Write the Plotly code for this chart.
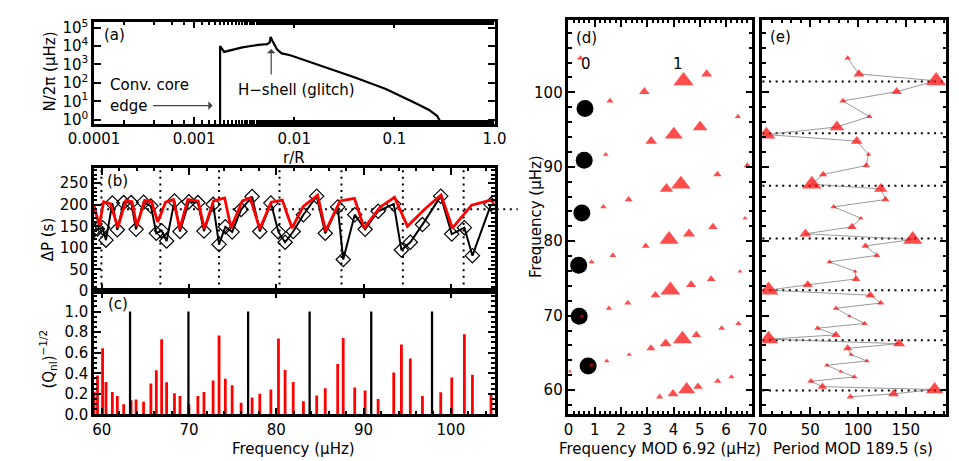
import plotly.graph_objects as go

W, H = 959, 461


def px(x):
    return x / W


def py(y):
    return 1 - y / H


# ── (a) buoyancy frequency profile ───────────────────────────────────────────
R_OVER_R = [0.001816, 0.001816, 0.001995, 0.002239, 0.00302, 0.004365, 0.00537,
            0.005689, 0.005808, 0.006026, 0.006761, 0.0075, 0.00912, 0.0398,
            0.0822, 0.1714, 0.2218, 0.2667, 0.2864, 0.2917]
N_UHZ = [0.1, 10000, 4786, 5754, 8511, 11480, 12590, 15850, 31620, 19950,
         6310, 3981, 3162, 199.5, 46.8, 6.92, 3.39, 1.62, 0.81, 0.1]

# ── l=1 mixed modes ──────────────────────────────────────────────────────────
F1 = [59.1, 59.5, 60.08, 60.47, 61.2, 61.77, 62.5, 63.35, 63.92, 64.78,
      65.62, 66.24, 66.85, 67.42, 68.32, 68.95, 69.97, 71.0, 71.7, 72.75,
      73.43, 74.15, 74.93, 75.96, 77.22, 78.1, 79.37, 80.24, 81.0, 81.93,
      83.1, 84.62, 85.6, 87.03, 87.66, 88.98, 90.17, 91.66, 93.45, 94.33,
      95.35, 96.74, 98.84, 100.1, 101.55, 102.47, 104.6]
Q1 = [0.22, 0.379, 0.644, 0.315, 0.218, 0.18, 0.10, 0.139, 0.145, 0.123,
      0.30, 0.429, 0.732, 0.312, 0.205, 0.18, 0.10, 0.18, 0.218, 0.331,
      0.767, 0.347, 0.284, 0.114, 0.164, 0.202, 0.243, 0.738, 0.432, 0.315,
      0.129, 0.183, 0.255, 0.489, 0.744, 0.262, 0.233, 0.151, 0.407, 0.681,
      0.543, 0.18, 0.215, 0.36, 0.779, 0.385, 0.196]
FMOD1 = [3.47, 3.98, 4.5, 4.93, 5.68, 6.2, 0.05, 0.88, 1.46, 2.31,
         3.14, 3.7, 4.34, 4.87, 5.83, 6.47, 0.51, 1.54, 2.26, 3.31,
         3.88, 4.67, 5.43, 6.53, 0.88, 1.69, 2.94, 3.83, 4.59, 5.5,
         6.72, 1.33, 2.29, 3.73, 4.28, 5.67, 6.81, 1.42, 3.15, 4.01,
         5.01, 6.45, 1.58, 2.89, 4.38, 5.26, 0.45]
PMOD1 = [92, 137.2, 180.2, 62.8, 50.7, 96.3, 81.9, 67.5, 109.4, 92.7,
         89.2, 143, 6.4, 76.9, 57.7, 107, 91, 76.9, 123.8, 113,
         6.4, 47.4, 98, 97, 70.1, 119.8, 107.7, 157.3, 45, 93.7,
         103, 74.5, 128.9, 123.8, 51.7, 63.5, 108.7, 111, 98.7, 4.1,
         77.9, 112, 84.2, 140.5, 181.8, 101, 89.2]

# ── radial modes ─────────────────────────────────────────────────────────────
F0 = [63.23, 69.92, 76.76, 83.81, 90.87, 97.84]
Q0 = [1.0, 1.0, 1.0, 1.0, 1.0, 1.0]
FMOD0 = [0.75, 0.41, 0.39, 0.51, 0.60, 0.63]

# nominal l=1 p modes (dotted guides) and asymptotic spacing
P1_NOM = [59.95, 66.7, 73.43, 80.36, 87.46, 94.5, 101.46]
DPI1 = 189.5

# ── (b) period spacings ──────────────────────────────────────────────────────
DP_F = F1
DP = [141, 144, 147, 118, 204, 142, 205, 205, 143, 206,
      197, 134, 140, 116, 209, 138, 207, 205, 139, 201,
      108, 149, 137, 189, 219, 138, 204, 137, 113, 138,
      177, 220, 134, 195, 73, 177, 143, 185, 202, 95,
      113, 154, 220, 132, 147, 82, 201]
DPM_F = [59.1, 59.7, 60.2, 61.0, 61.83, 62.75, 63.45, 64.0, 64.9, 65.7,
         66.4, 67.3, 68.2, 68.93, 69.85, 71.03, 71.75, 72.8, 74.07, 74.8,
         76.1, 77.0, 78.1, 79.4, 80.68, 81.79, 83.08, 84.73, 85.64, 87.3,
         88.95, 90.06, 91.9, 93.55, 95.02, 97.05, 98.88, 100.17, 102.37,
         104.58, 105.1]
DPM = [198, 152, 207, 202, 147, 210, 207, 150, 210, 207,
       160, 206, 212, 144, 212, 209, 144, 209, 216, 146,
       209, 216, 144, 206, 211, 146, 196, 222, 139, 209,
       215, 146, 195, 217, 150, 191, 223, 146, 199,
       211, 199]

RED = "#ff0000"
FONT = "DejaVu Sans"
FS = 15


def frame(**kw):
    ax = dict(showline=True, linecolor="black", linewidth=2.5, mirror="allticks",
              ticks="inside", ticklen=7, tickwidth=2, tickcolor="black",
              showgrid=False, zeroline=False,
              tickfont=dict(family=FONT, size=FS, color="black"))
    ax.update(kw)
    return ax


def minor(dt, n=3.5):
    return dict(ticks="inside", ticklen=n, tickwidth=1.5, tickcolor="black",
                dtick=dt, showgrid=False)


fig = go.Figure()

# (a)
fig.add_trace(go.Scatter(x=R_OVER_R, y=N_UHZ, mode="lines",
                         line=dict(color="black", width=2.2),
                         xaxis="x", yaxis="y"))

# (b)
fig.add_trace(go.Scatter(x=DP_F, y=DP, mode="lines+markers",
                         line=dict(color="black", width=2),
                         marker=dict(symbol="diamond-open", size=11,
                                     color="black", line=dict(width=1.2)),
                         xaxis="x2", yaxis="y2"))
fig.add_trace(go.Scatter(x=DPM_F, y=DPM, mode="lines",
                         line=dict(color=RED, width=2.8),
                         xaxis="x2", yaxis="y2"))

# (c)
fig.add_trace(go.Bar(x=F1, y=Q1, width=0.32, marker=dict(color=RED, line_width=0),
                     xaxis="x3", yaxis="y3"))
fig.add_trace(go.Bar(x=F0, y=Q0, width=0.26, marker=dict(color="black", line_width=0),
                     xaxis="x3", yaxis="y3"))

# (d)
sizes = [2 + 20 * q for q in Q1]
fig.add_trace(go.Scatter(x=FMOD0, y=F0, mode="markers",
                         marker=dict(symbol="circle", size=17, color="black"),
                         xaxis="x4", yaxis="y4"))
fig.add_trace(go.Scatter(x=FMOD1, y=F1, mode="markers",
                         marker=dict(symbol="triangle-up", size=sizes, color=RED,
                                     line=dict(width=0)),
                         xaxis="x4", yaxis="y4"))

# (e)
fig.add_trace(go.Scatter(x=PMOD1, y=F1, mode="lines+markers",
                         line=dict(color="#808080", width=0.8),
                         marker=dict(symbol="triangle-up", size=sizes, color=RED,
                                     line=dict(width=0)),
                         xaxis="x5", yaxis="y5"))

# dotted guides
dots = dict(color="black", width=2, dash="2px,4.6px")
shapes = []
for f in P1_NOM:
    shapes.append(dict(type="line", xref="x2", yref="y2 domain", x0=f, x1=f,
                       y0=0, y1=1, line=dots, layer="below"))
    shapes.append(dict(type="line", xref="x5 domain", yref="y5", x0=0, x1=1,
                       y0=f, y1=f, line=dots, layer="below"))
shapes.append(dict(type="line", xref="x2 domain", yref="y2", x0=0, x1=1.058,
                   y0=DPI1, y1=DPI1, line=dots, layer="below"))

xl, xr = px(62.5), px(479.5)
fig.update_layout(
    width=W, height=H, autosize=False,
    margin=dict(l=0, r=0, t=0, b=0),
    paper_bgcolor="white", plot_bgcolor="white",
    showlegend=False, barmode="overlay",
    font=dict(family=FONT, size=FS, color="black"),
    shapes=shapes,
    xaxis=frame(type="log", domain=[xl, xr], range=[-4, 0], anchor="y",
                tickvals=[1e-4, 1e-3, 1e-2, 1e-1, 1],
                ticktext=["0.0001", "0.001", "0.01", "0.1", "1.0"],
                minor=dict(ticks="inside", ticklen=3.5, tickwidth=1.5,
                           tickcolor="black", showgrid=False)),
    yaxis=frame(type="log", domain=[py(114), py(9)], range=[-0.21, 5.32],
                anchor="x",
                tickvals=[1, 10, 100, 1e3, 1e4, 1e5],
                ticktext=["10<sup>0</sup>", "10<sup>1</sup>", "10<sup>2</sup>",
                          "10<sup>3</sup>", "10<sup>4</sup>", "10<sup>5</sup>"]),
    xaxis2=frame(domain=[xl, xr], range=[59.1, 105], anchor="y2",
                 matches="x3", showticklabels=False, dtick=10, tick0=0,
                 minor=minor(2)),
    yaxis2=frame(domain=[py(286.7), py(160)], range=[0, 285], anchor="x2",
                 tickvals=[0, 50, 100, 150, 200, 250], minor=minor(10)),
    xaxis3=frame(domain=[xl, xr], range=[59.1, 105], anchor="y3",
                 dtick=10, tick0=0, minor=minor(2)),
    yaxis3=frame(domain=[py(414), py(286.7)], range=[0, 1.2], anchor="x3",
                 tickvals=[0, 0.2, 0.4, 0.6, 0.8, 1.0], tickformat=".1f",
                 minor=minor(0.05)),
    xaxis4=frame(domain=[px(556.5), px(748)], range=[0, 7], anchor="y4",
                 dtick=1, minor=minor(0.2)),
    yaxis4=frame(domain=[py(413.5), py(7)], range=[56.8, 109.75], anchor="x4",
                 dtick=10, minor=minor(2)),
    xaxis5=frame(domain=[px(758.5), px(950)], range=[0, 192.5], anchor="y5",
                 dtick=50, minor=minor(10)),
    yaxis5=frame(domain=[py(413.5), py(7)], range=[56.8, 109.75], anchor="x5",
                 matches="y4", showticklabels=False, dtick=10, minor=minor(2)),
)


def label(x, y, text, angle=0, xanchor="center", size=FS):
    return dict(x=px(x), y=py(y), xref="paper", yref="paper", text=text,
                showarrow=False, textangle=angle, xanchor=xanchor,
                yanchor="middle", font=dict(family=FONT, size=size, color="black"))


notes = [
    label(84, 23, "(a)"), label(87, 173, "(b)"), label(87, 300, "(c)"),
    label(575.5, 26, "(d)"), label(777, 25, "(e)"),
    label(17, 60, "N/2π (μHz)", -90),
    label(271, 150, "r/R"),
    label(15, 233, "ΔP (s)", -90),
    label(14, 357, "(Q<sub>nl</sub>)<sup>−1/2</sup>", -90),
    label(270, 450, "Frequency (μHz)"),
    label(522, 210, "Frequency (μHz)", -90),
    label(652, 450, "Frequency MOD 6.92 (μHz)"),
    label(853, 450, "Period MOD 189.5 (s)"),
    label(77, 74, "Conv. core", xanchor="left"),
    label(77, 96, "edge", xanchor="left"),
    label(273, 79, "H−shell (glitch)"),
    dict(x=0.675, y=103.8, xref="x4", yref="y4", text="0", showarrow=False,
         font=dict(family=FONT, size=FS, color="black")),
    dict(x=4.18, y=103.8, xref="x4", yref="y4", text="1", showarrow=False,
         font=dict(family=FONT, size=FS, color="black")),
    dict(x=px(186), y=py(95.5), xref="paper", yref="paper", text="",
         showarrow=True, ax=-61, ay=0, arrowhead=1, arrowsize=1.2,
         arrowwidth=1.2, arrowcolor="#444444"),
    dict(x=px(247), y=py(37), xref="paper", yref="paper", text="",
         showarrow=True, ax=0, ay=27, arrowhead=1, arrowsize=1.2,
         arrowwidth=1.2, arrowcolor="#444444"),
]
fig.update_layout(annotations=notes)

fig.write_html("out.html")
